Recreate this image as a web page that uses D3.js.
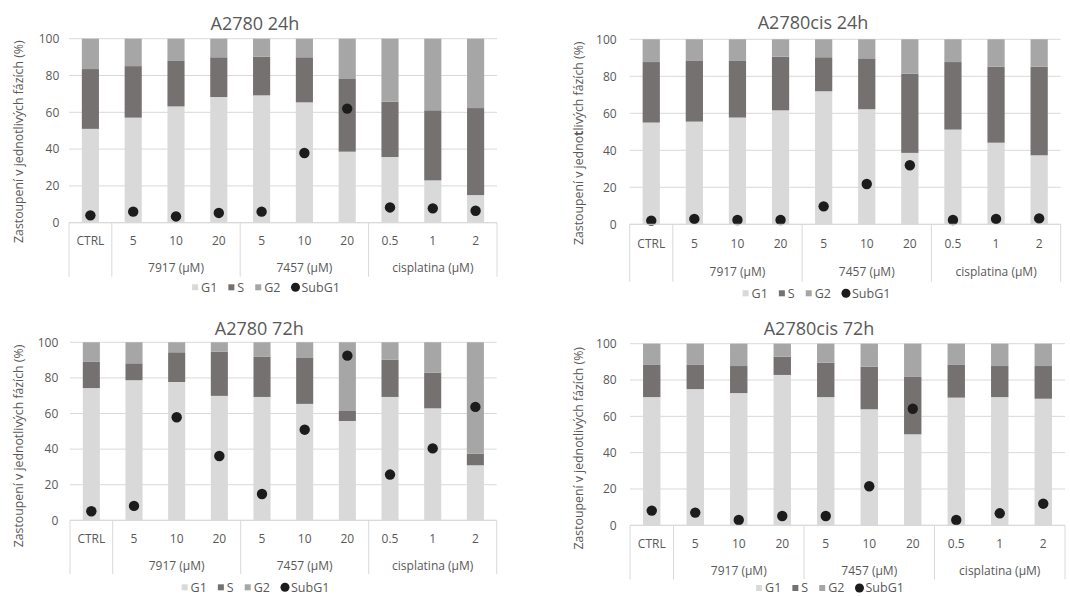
<!DOCTYPE html>
<html>
<head>
<meta charset="utf-8">
<script src="https://cdn.jsdelivr.net/npm/d3@7"></script>
<style>
  html, body { margin: 0; padding: 0; background: #fff; }
  svg { display: block; }
  text { font-family: "Open Sans", "Noto Sans", sans-serif; fill: #595959; }
</style>
</head>
<body>
<svg id="chart" width="1070" height="596"></svg>
<script>
// ---- Data ----
const categories = ["CTRL", "5", "10", "20", "5", "10", "20", "0.5", "1", "2"];
const groupLabels = ["", "7917 (µM)", "7457 (µM)", "cisplatina (µM)"];
const groupSizes = [1, 3, 3, 3];
const seriesNames = ["G1", "S", "G2", "SubG1"];
const yTicks = [0, 20, 40, 60, 80, 100];
const titles = ["A2780 24h", "A2780cis 24h", "A2780 72h", "A2780cis 72h"];
const yAxisTitle = "Zastoupení v jednotlivých fázích (%)";

// A2780 24h
const g1_A24 = [51.0, 57.1, 63.2, 68.3, 69.2, 65.4, 38.6, 35.7, 23.0, 15.0];
const s_A24 = [32.5, 28.0, 25.0, 21.6, 21.0, 24.5, 39.5, 30.1, 38.1, 47.3];
const g2_A24 = [16.5, 14.9, 11.8, 10.1, 9.8, 10.1, 21.9, 34.2, 38.9, 37.7];
const subG1_A24 = [4.0, 6.0, 3.4, 5.3, 6.0, 37.9, 62.0, 8.3, 7.8, 6.5];

// A2780cis 24h
const g1_C24 = [55.0, 55.5, 57.7, 61.6, 71.9, 62.2, 38.6, 51.2, 44.1, 37.3];
const s_C24 = [32.7, 33.1, 30.9, 29.0, 18.4, 27.5, 42.8, 36.5, 41.1, 47.9];
const g2_C24 = [12.3, 11.4, 11.4, 9.4, 9.7, 10.3, 18.6, 12.3, 14.8, 14.8];
const subG1_C24 = [2.0, 2.9, 2.3, 2.3, 9.7, 21.8, 31.9, 2.3, 2.9, 3.2];

// A2780 72h
const g1_A72 = [74.3, 78.7, 77.7, 69.9, 69.3, 65.4, 55.8, 69.3, 62.9, 30.9];
const s_A72 = [14.7, 9.5, 16.7, 24.9, 22.5, 25.8, 5.6, 21.0, 20.1, 6.6];
const g2_A72 = [11.0, 11.8, 5.6, 5.2, 8.2, 8.8, 38.6, 9.7, 17.0, 62.5];
const subG1_A72 = [5.1, 8.1, 57.9, 36.1, 14.8, 50.9, 92.5, 25.7, 40.4, 63.7];

// A2780cis 72h
const g1_C72 = [70.6, 75.0, 72.8, 82.8, 70.6, 63.9, 50.1, 70.3, 70.6, 69.7];
const s_C72 = [17.7, 13.3, 14.9, 10.0, 18.9, 23.4, 31.6, 18.0, 17.1, 18.0];
const g2_C72 = [11.7, 11.7, 12.3, 7.2, 10.5, 12.7, 18.3, 11.7, 12.3, 12.3];
const subG1_C72 = [8.1, 7.0, 2.9, 5.1, 5.1, 21.5, 64.2, 2.9, 6.6, 11.9];

// ---- Styling / layout ----
const colors = { G1: "#d9d9d9", S: "#767171", G2: "#a6a6a6", SubG1: "#1c1c1c" };

const layouts = [
  { x0: 69,    x1: 497,    yTop: 38.7,  yBot: 222.7, titleX: 255,   titleY: 23.3,  catY: 240.7, grpY: 267.7, sepBot: 276.7, legX: 266,   legY: 287.3, ylabX: 19,  ylabY: 141.7, tickX: 59.3 },
  { x0: 629.7, x1: 1060.7, yTop: 39.3,  yBot: 224.3, titleX: 813,   titleY: 22.7,  catY: 243.3, grpY: 271.7, sepBot: 281.7, legX: 816.5, legY: 293.3, ylabX: 579, ylabY: 143.3, tickX: 616.7 },
  { x0: 70,    x1: 496.7,  yTop: 342.3, yBot: 520.3, titleX: 259.3, titleY: 328.3, catY: 538.7, grpY: 566,   sepBot: 574,   legX: 255.5, legY: 587.3, ylabX: 19,  ylabY: 446,   tickX: 58.3 },
  { x0: 630,   x1: 1065,   yTop: 343.7, yBot: 525.3, titleX: 819,   titleY: 328.3, catY: 544,   grpY: 571,   sepBot: 579.3, legX: 830,   legY: 588,   ylabX: 579, ylabY: 448.3, tickX: 616.7 }
];

const panelData = [
  [g1_A24, s_A24, g2_A24, subG1_A24],
  [g1_C24, s_C24, g2_C24, subG1_C24],
  [g1_A72, s_A72, g2_A72, subG1_A72],
  [g1_C72, s_C72, g2_C72, subG1_C72]
];

const svg = d3.select("#chart");

panelData.forEach((pd, pi) => {
  const L = layouts[pi];
  const [g1, s, g2, sub] = pd;
  const rows = categories.map((c, i) => ({ idx: i, G1: g1[i], S: s[i], G2: g2[i], SubG1: sub[i] }));

  const x = d3.scaleBand().domain(d3.range(categories.length)).range([L.x0, L.x1])
    .paddingInner(0.6).paddingOuter(0.3);
  const xEdge = d3.scaleLinear().domain([0, categories.length]).range([L.x0, L.x1]);
  const y = d3.scaleLinear().domain([0, 100]).range([L.yBot, L.yTop]);

  const g = svg.append("g");

  // gridlines
  g.append("g").selectAll("line").data(yTicks).join("line")
    .attr("x1", L.x0).attr("x2", L.x1)
    .attr("y1", d => y(d)).attr("y2", d => y(d))
    .attr("stroke", "#d9d9d9").attr("stroke-width", 1);

  // y tick labels via d3 axis
  const yAxis = d3.axisLeft(y).tickValues(yTicks).tickSize(0).tickPadding(0);
  const ya = g.append("g").attr("transform", `translate(${L.tickX},0)`).call(yAxis);
  ya.select(".domain").remove();
  ya.selectAll("text").style("font-size", "12px").attr("fill", "#595959")
    .style("font-family", '"Open Sans", sans-serif');

  // stacked bars
  const stack = d3.stack().keys(["G1", "S", "G2"]);
  const stacked = stack(rows);
  g.append("g").selectAll("g").data(stacked).join("g")
    .attr("fill", d => colors[d.key])
    .selectAll("rect").data(d => d).join("rect")
    .attr("x", d => x(d.data.idx))
    .attr("width", x.bandwidth())
    .attr("y", d => y(d[1]))
    .attr("height", d => y(d[0]) - y(d[1]));

  // SubG1 points
  g.append("g").selectAll("circle").data(rows).join("circle")
    .attr("cx", d => x(d.idx) + x.bandwidth() / 2)
    .attr("cy", d => y(d.SubG1))
    .attr("r", 5.2)
    .attr("fill", colors.SubG1);

  // baseline
  g.append("line").attr("x1", L.x0).attr("x2", L.x1)
    .attr("y1", y(0)).attr("y2", y(0)).attr("stroke", "#d9d9d9");

  // category labels
  g.append("g").selectAll("text").data(categories).join("text")
    .attr("x", (d, i) => x(i) + x.bandwidth() / 2)
    .attr("y", L.catY).attr("dy", "0.35em")
    .attr("text-anchor", "middle").style("font-size", "12px")
    .text(d => d);

  // group separators and labels
  let start = 0;
  const bounds = [0];
  groupSizes.forEach((n, gi) => {
    const mid = xEdge(start + n / 2);
    g.append("text").attr("x", mid).attr("y", L.grpY).attr("dy", "0.35em")
      .attr("text-anchor", "middle").style("font-size", "12px").text(groupLabels[gi]);
    start += n;
    bounds.push(start);
  });
  g.append("g").selectAll("line").data(bounds).join("line")
    .attr("x1", d => xEdge(d)).attr("x2", d => xEdge(d))
    .attr("y1", y(0)).attr("y2", L.sepBot)
    .attr("stroke", "#d9d9d9");

  // title
  g.append("text").attr("x", L.titleX).attr("y", L.titleY).attr("dy", "0.35em")
    .attr("text-anchor", "middle").style("font-size", "18px").text(titles[pi]);

  // y axis title (panel 2 has a bold "t" in the original)
  const yt = g.append("text")
    .attr("transform", `translate(${L.ylabX},${L.ylabY}) rotate(-90)`)
    .attr("dy", "0.35em").attr("text-anchor", "middle")
    .style("font-size", "12.3px");
  if (pi === 1) {
    const k = yAxisTitle.indexOf("jedno") + 5;
    yt.append("tspan").text(yAxisTitle.slice(0, k));
    yt.append("tspan").style("font-weight", "bold").text(yAxisTitle.slice(k, k + 1));
    yt.append("tspan").text(yAxisTitle.slice(k + 1));
  } else {
    yt.text(yAxisTitle);
  }

  // legend
  const leg = g.append("g");
  let cx = 0;
  const gap = 11;
  seriesNames.forEach(name => {
    const it = leg.append("g").attr("transform", `translate(${cx},0)`);
    let tx;
    if (name === "SubG1") {
      it.append("circle").attr("cx", 4).attr("cy", 0).attr("r", 4.5).attr("fill", colors.SubG1);
      tx = 10;
    } else {
      it.append("rect").attr("x", 0).attr("y", -3).attr("width", 6).attr("height", 6).attr("fill", colors[name]);
      tx = 9;
    }
    const t = it.append("text").attr("x", tx).attr("y", 0).attr("dy", "0.35em")
      .style("font-size", "12.5px").text(name);
    const w = t.node().getComputedTextLength();
    cx += tx + w + gap;
  });
  const totalW = cx - gap;
  leg.attr("transform", `translate(${L.legX - totalW / 2},${L.legY})`);
});
</script>
</body>
</html>
